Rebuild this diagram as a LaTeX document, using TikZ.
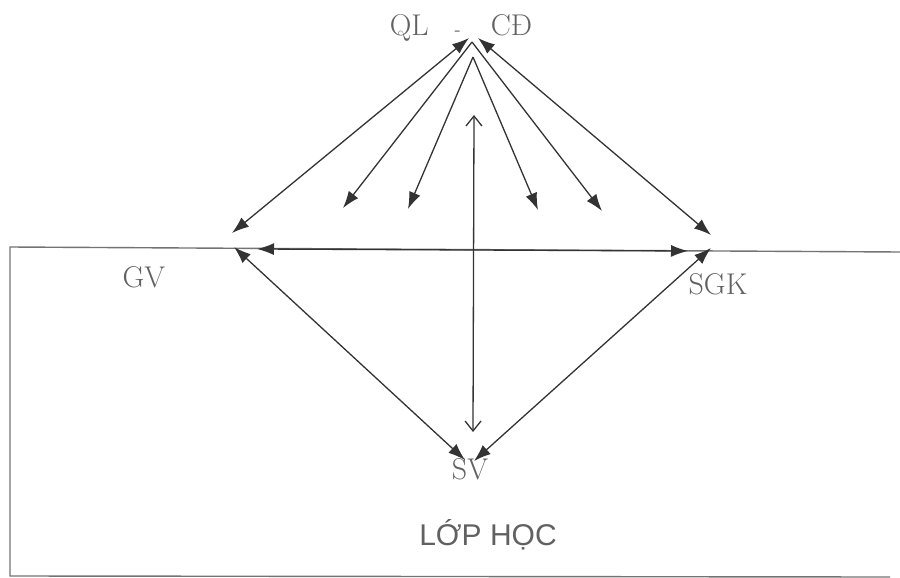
\documentclass[tikz,border=0pt]{standalone}
\usepackage{fontspec}
\newfontfamily\lopfont{Liberation Sans}
\usetikzlibrary{arrows.meta}
\tikzset{
  ln/.style={draw=black!80,line width=0.65pt},
  tipf/.style={-{Latex[length=8.5pt,width=6pt]}},
  tipff/.style={{Latex[length=8.5pt,width=6pt]}-{Latex[length=8.5pt,width=6pt]}},
  tipoo/.style={{Straight Barb[length=5pt,width=8pt]}-{Straight Barb[length=5pt,width=8pt]}},
  lbl/.style={text=black!62,font=\fontsize{15}{17}\selectfont,inner sep=0pt,anchor=base},
  framebox/.style={draw=black!55,line width=0.7pt}
}
\begin{document}
\begin{tikzpicture}[x=0.5pt,y=-0.5pt]
\useasboundingbox (0,0) rectangle (900,578);
% class frame
\draw[framebox] (900,252) -- (10,247) -- (10,576) -- (890,577);
% labels
\node[lbl] (qlcd) at (461,35) {QL\hspace{13pt}{\fontsize{9}{9}\selectfont -}\hspace{15pt}CĐ};
\node[lbl] (gv) at (144,287) {GV};
\node[lbl] (sgk) at (718,294) {SGK};
\node[lbl] (sv) at (470,479) {SV};
\node[lbl,font=\lopfont\fontsize{15}{17}\selectfont] (lop) at (488,545) {LỚP HỌC};
% anchor points
\coordinate (apL) at (469,38);
\coordinate (apR) at (478,38);
\coordinate (ap) at (472,42);
\coordinate (apLow) at (473,57);
\coordinate (gvQ) at (232,233);
\coordinate (sgkQ) at (711,235);
\coordinate (gvH) at (257,249);
\coordinate (sgkH) at (688,251);
\coordinate (gvS) at (234,247);
\coordinate (sgkS) at (711,248);
\coordinate (svL) at (465,460);
\coordinate (svR) at (474,461);
\coordinate (t2) at (343,208);
\coordinate (t3) at (408,209);
\coordinate (t4) at (538,210);
\coordinate (t5) at (602,211);
\coordinate (vTop) at (474,115);
\coordinate (vBot) at (473,432);
% connectors
\draw[ln,tipff] (apL) -- (gvQ);
\draw[ln,tipff] (apR) -- (sgkQ);
\draw[ln,tipf] (ap) -- (t2);
\draw[ln,tipf] (apLow) -- (t3);
\draw[ln,tipf] (apLow) -- (t4);
\draw[ln,tipf] (ap) -- (t5);
\draw[ln,tipff] (gvH) -- (sgkH);
\draw[ln,tipff] (gvS) -- (svL);
\draw[ln,tipff] (sgkS) -- (svR);
\draw[ln,tipoo] (vTop) -- (vBot);
\end{tikzpicture}
\end{document}
